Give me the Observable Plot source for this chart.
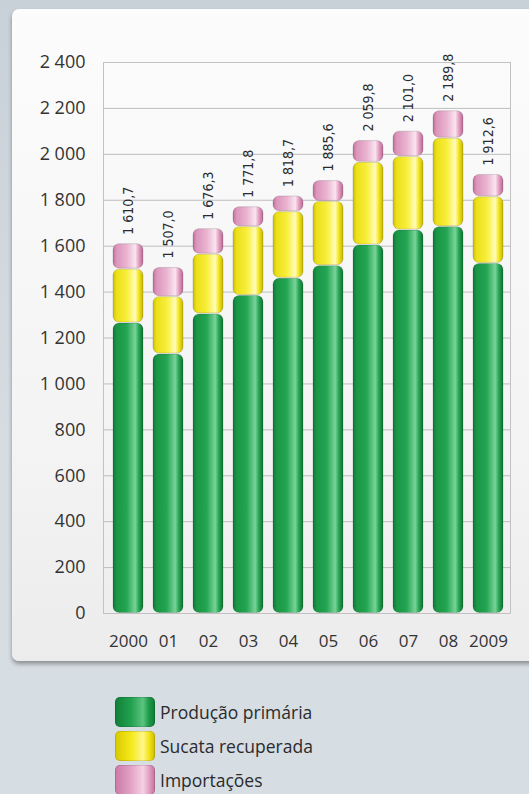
<!DOCTYPE html>
<html><head><meta charset="utf-8">
<script src="https://cdn.jsdelivr.net/npm/d3@7"></script>
<script src="https://cdn.jsdelivr.net/npm/@observablehq/plot@0.6"></script>
<style>
html,body{margin:0;padding:0;}
body{width:529px;height:794px;overflow:hidden;position:relative;background:linear-gradient(180deg,#c9d1d8 0%,#d5dce2 55%,#d6dde3 100%);font-family:"Open Sans",sans-serif;}
#panel{position:absolute;left:12px;top:9px;width:560px;height:652px;border-radius:7px;background:linear-gradient(180deg,#fcfcfc 0%,#f3f3f3 70%,#ececec 100%);box-shadow:0 3px 4px rgba(0,0,0,0.35);}
#chart{position:absolute;left:0;top:0;}
#legend{position:absolute;left:115px;top:695px;}
.row{display:flex;align-items:center;height:34px;}
.sw{width:40px;height:30px;border-radius:5px;margin-right:5px;box-shadow:inset 0 0 0 1px rgba(0,0,0,0.12);}
.lab{font-size:17.5px;color:#2b2b2b;}
</style></head><body>
<div id="panel"></div><div id="chart"></div><div id="legend"></div>
<script>
const years = ["2000","01","02","03","04","05","06","07","08","2009"];
const primaria = [1265, 1130, 1305, 1385, 1460, 1515, 1605, 1670, 1685, 1525];
const sucata = [235, 250, 260, 300, 290, 280, 360, 320, 385, 290];
const totals = [1610.7, 1507.0, 1676.3, 1771.8, 1818.7, 1885.6, 2059.8, 2101.0, 2189.8, 1912.6];
const importacoes = totals.map((t, i) => +(t - primaria[i] - sucata[i]).toFixed(1));
const yTicks = [0, 200, 400, 600, 800, 1000, 1200, 1400, 1600, 1800, 2000, 2200, 2400];
const seriesNames = ["Produção primária", "Sucata recuperada", "Importações"];
const seriesFills = ["url(#gGreen)", "url(#gYellow)", "url(#gPink)"];
const swatchCss = [
  "linear-gradient(90deg,#127f39,#22a150 40%,#5cc47f 70%,#1c9a48 85%,#0f7a35)",
  "linear-gradient(90deg,#d8c900,#f4e81a 40%,#fff78a 70%,#f2e41a 85%,#cdbd00)",
  "linear-gradient(90deg,#c97aa6,#e3a2c5 40%,#f4d2e4 70%,#e2a0c4 85%,#c3719c)"
];

const loc = d3.formatLocale({decimal: ",", thousands: " ", grouping: [3], currency: ["", ""]});
const fmtVal = loc.format(",.1f");
const fmtTick = loc.format(",d");

const series = [primaria, sucata, importacoes];
const rows = [];
years.forEach((yr, i) => {
  let acc = 0;
  series.forEach((s, k) => {
    rows.push({year: yr, key: seriesNames[k], y1: acc, y2: acc + s[i], fill: seriesFills[k]});
    acc += s[i];
  });
});
const labels = years.map((yr, i) => ({year: yr, total: totals[i], text: fmtVal(totals[i])}));

const chart = Plot.plot({
  width: 529,
  height: 680,
  marginTop: 62,
  marginBottom: 67,
  marginLeft: 103,
  marginRight: 19,
  style: {fontFamily: "'Open Sans', sans-serif", fontSize: "17px", color: "#333", background: "transparent"},
  x: {domain: years, paddingInner: 0.25, paddingOuter: 0.2125, align: 0.59, label: null, tickSize: 0, tickPadding: 21},
  y: {domain: [0, 2400], ticks: yTicks, tickFormat: fmtTick, tickSize: 0, tickPadding: 18, label: null},
  marks: [
    Plot.ruleY(yTicks, {stroke: "#bdbdbd", strokeWidth: 1}),
    Plot.frame({stroke: "#c2c2c2"}),
    Plot.barY(rows, {x: "year", y1: "y1", y2: "y2", fill: d => d.fill, rx: 6, insetTop: 0.5, insetBottom: 0.5, stroke: "rgba(0,0,0,0.18)", strokeWidth: 0.8}),
    Plot.text(labels, {x: "year", y: "total", text: "text", rotate: -90, textAnchor: "start", dy: -9, fontSize: 14, fontFamily: "'Liberation Sans Narrow', 'DejaVu Sans Condensed', sans-serif", fill: "#2a2a2a"})
  ]
});

const svg = d3.select(chart);
svg.selectAll("g[aria-label='y-axis tick label'] text, g[aria-label='y-axis'] text").style("font-size", "18px");
const defs = svg.insert("defs", ":first-child");
function grad(id, stops) {
  const g = defs.append("linearGradient").attr("id", id).attr("x1", "0").attr("x2", "1").attr("y1", "0").attr("y2", "0");
  stops.forEach(([o, c]) => g.append("stop").attr("offset", o).attr("stop-color", c));
}
grad("gGreen", [[0, "#0f7a35"], [0.12, "#1a9646"], [0.45, "#23a553"], [0.66, "#60c685"], [0.74, "#7ad398"], [0.86, "#26a656"], [1, "#0c7230"]]);
grad("gYellow", [[0, "#cfbf00"], [0.12, "#ece01a"], [0.45, "#f8ee3a"], [0.66, "#fff78e"], [0.74, "#fffbc0"], [0.86, "#f2e51e"], [1, "#c6b600"]]);
grad("gPink", [[0, "#c06f9a"], [0.12, "#dc96bc"], [0.45, "#e9b3d0"], [0.66, "#f5d6e6"], [0.74, "#fae6f0"], [0.86, "#e29fc3"], [1, "#bb6893"]]);

document.getElementById("chart").appendChild(chart);

const legend = d3.select("#legend");
seriesNames.forEach((n, k) => {
  const r = legend.append("div").attr("class", "row");
  r.append("div").attr("class", "sw").style("background", swatchCss[k]);
  r.append("div").attr("class", "lab").text(n);
});
</script>
</body></html>
